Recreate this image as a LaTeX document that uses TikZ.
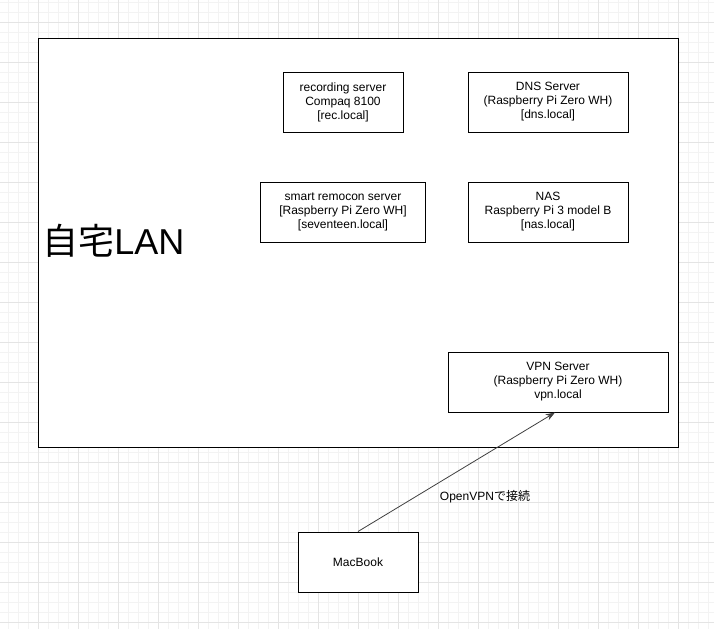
\documentclass[tikz,border=0pt]{standalone}
\usepackage{fontspec}
\setmainfont{Liberation Sans}
\newfontfamily\cjk{Noto Sans CJK JP}
\usetikzlibrary{arrows.meta,calc}
\definecolor{gridminor}{HTML}{F3F3F3}
\definecolor{gridmajor}{HTML}{E4E4E4}
\tikzset{
  box/.style={draw=black, fill=white, line width=0.75pt, rectangle, align=center,
    font=\fontsize{9pt}{10.5pt}\selectfont, inner sep=0pt, minimum height=45pt},
  conn/.style={draw=black!75, line width=0.6pt, -{Stealth[length=7pt,width=5pt]}},
}
\begin{document}
\begin{tikzpicture}[x=0.75pt,y=-0.75pt]
\useasboundingbox (0,0) rectangle (714,629);
\fill[white] (0,0) rectangle (714,629);
% grid
\foreach \gx in {8,18,...,708} \draw[gridminor, line width=0.75pt] (\gx,0) -- (\gx,629);
\foreach \gy in {2,12,...,622} \draw[gridminor, line width=0.75pt] (0,\gy) -- (714,\gy);
\foreach \gx in {38,78,...,678} \draw[gridmajor, line width=0.75pt] (\gx,0) -- (\gx,629);
\foreach \gy in {22,62,...,622} \draw[gridmajor, line width=0.75pt] (0,\gy) -- (714,\gy);
% outer LAN box
\draw[fill=white, line width=0.75pt] (38,38) rectangle (678,447);
\node[anchor=west, inner sep=0pt, font=\fontsize{27pt}{30pt}\selectfont] (lan) at (42,241) {{\cjk 自宅}LAN};
% nodes
\node[box, minimum width=90pt] (rec) at (343,102) {recording server\\Compaq 8100\\{[}rec.local{]}};
\node[box, minimum width=120pt] (dns) at (548,102) {DNS Server\\(Raspberry Pi Zero WH)\\{[}dns.local{]}};
\node[box, minimum width=124pt] (remo) at (343,212) {smart remocon server\\{[}Raspberry Pi Zero WH{]}\\{[}seventeen.local{]}};
\node[box, minimum width=120pt] (nas) at (548,212) {NAS\\Raspberry Pi 3 model B\\{[}nas.local{]}};
\node[box, minimum width=165pt] (vpn) at (558,382) {VPN Server\\(Raspberry Pi Zero WH)\\vpn.local};
\node[box, minimum width=90pt] (mac) at (358,562) {MacBook};
\coordinate (vpnin) at ($(vpn.south)+(-3,0)$);
\draw[conn] (mac.north) -- (vpnin);
\node[font=\fontsize{9pt}{10.5pt}\selectfont, inner sep=0pt] (lbl) at (485,497) {OpenVPN{\cjk で接続}};
\end{tikzpicture}
\end{document}
